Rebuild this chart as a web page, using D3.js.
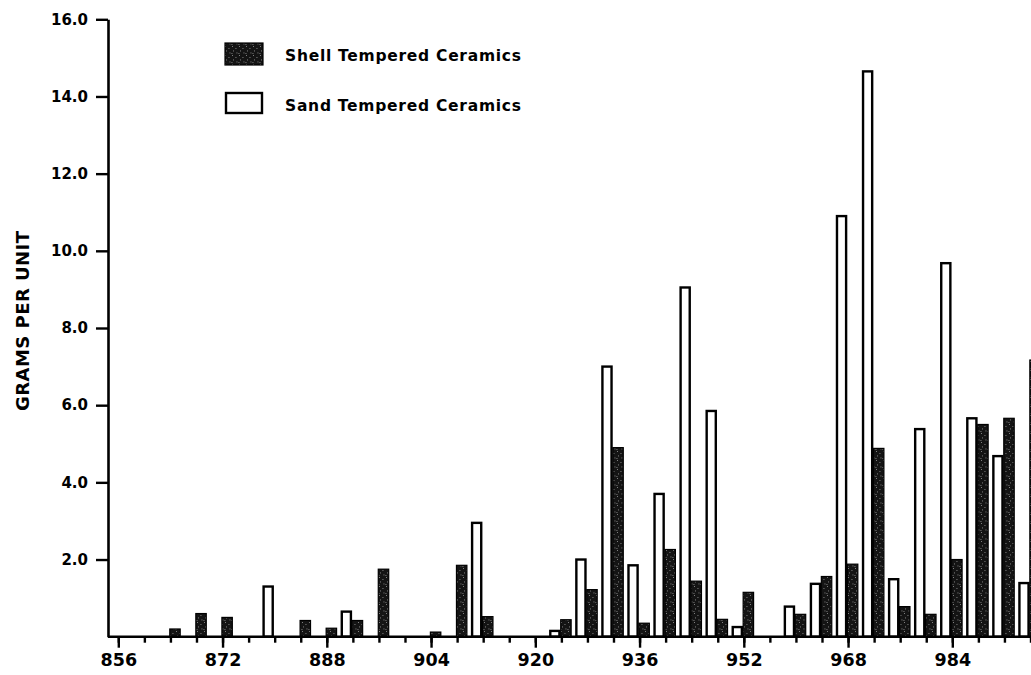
<!DOCTYPE html>
<html><head><meta charset="utf-8">
<script src="https://cdn.jsdelivr.net/npm/d3@7"></script>
<style>body{margin:0;background:#fff}svg{display:block}</style>
</head><body>
<svg id="c" width="1031" height="675"></svg>
<script>
// ---- data ----
const units = [856,860,864,868,872,876,880,884,888,892,896,900,904,908,912,916,920,924,928,932,936,940,944,948,952,956,960,964,968,972,976,980,984,988,992,996];
const sand  = [0,0,0,0,0,0,1.3,0,0,0.65,0,0,0,0,2.95,0,0,0.15,2.0,7.0,1.85,3.7,9.05,5.85,0.25,0,0.78,1.37,10.9,14.65,1.49,5.38,9.68,5.66,4.68,1.39];
const shell = [0,0,0.2,0.6,0.5,0,0,0.42,0.22,0.42,1.75,0,0.12,1.85,0.52,0,0,0.44,1.22,4.9,0.35,2.26,1.44,0.45,1.15,0,0.58,1.56,1.88,4.88,0.78,0.58,2.0,5.5,5.66,7.17];
const xMajorTicks = [856,872,888,904,920,936,952,968,984];
const yTicks = [2,4,6,8,10,12,14,16];
const legendLabels = ["Shell Tempered Ceramics","Sand Tempered Ceramics"];
const yTitle = "GRAMS PER UNIT";

// ---- setup ----
const svg = d3.select("#c");
const FONT = "'DejaVu Sans', 'Liberation Sans', Arial, sans-serif";
const x = d3.scaleLinear().domain([856, 996]).range([118.3, 1030.5]);
const y = d3.scaleLinear().domain([0, 16]).range([636.7, 19.3]);
const axisX = 108;

// stipple pattern for shell bars
const defs = svg.append("defs");
const pat = defs.append("pattern").attr("id","stip").attr("patternUnits","userSpaceOnUse")
  .attr("width",7).attr("height",9);
pat.append("rect").attr("width",7).attr("height",9).attr("fill","#141414");
[[1,1],[4.5,3],[2,5.5],[5.5,7.5],[0.5,8]].forEach(p=>{
  pat.append("rect").attr("x",p[0]).attr("y",p[1]).attr("width",0.9).attr("height",0.9).attr("fill","#9a9a9a");
});

const data = units.map((u,i)=>({u, sand:sand[i], shell:shell[i]}));

// sand (open) bars
svg.append("g").selectAll("rect").data(data.filter(d=>d.sand>0)).join("rect")
  .attr("x", d=>x(d.u-1.7))
  .attr("width", d=>x(d.u-0.3)-x(d.u-1.7))
  .attr("y", d=>y(d.sand))
  .attr("height", d=>y(0)-y(d.sand))
  .attr("fill","#fff").attr("stroke","#000").attr("stroke-width",2.4);

// shell (filled) bars
svg.append("g").selectAll("rect").data(data.filter(d=>d.shell>0)).join("rect")
  .attr("x", d=>x(d.u-0.1))
  .attr("width", d=>x(d.u+1.5)-x(d.u-0.1))
  .attr("y", d=>y(d.shell))
  .attr("height", d=>y(0)-y(d.shell))
  .attr("fill","url(#stip)").attr("stroke","#000").attr("stroke-width",1.2);

// x axis: minor ticks
const gxMinor = svg.append("g").attr("transform",`translate(0,${y(0)})`)
  .call(d3.axisBottom(x).tickValues(units).tickSize(6).tickFormat(""));
// major ticks with labels
const gxMajor = svg.append("g").attr("transform",`translate(0,${y(0)})`)
  .call(d3.axisBottom(x).tickValues(xMajorTicks).tickSize(11).tickPadding(6).tickFormat(d3.format("d")));
[gxMinor,gxMajor].forEach(g=>{
  g.select(".domain").remove();
  g.selectAll(".tick line").attr("stroke","#000").attr("stroke-width",2.4);
});
gxMajor.selectAll(".tick text").attr("font-family",FONT).attr("font-weight","bold")
  .attr("font-size",17.5).attr("fill","#000");
// baseline
svg.append("line").attr("x1",axisX).attr("x2",1031).attr("y1",y(0)).attr("y2",y(0))
  .attr("stroke","#000").attr("stroke-width",2.6);

// y axis
const gy = svg.append("g").attr("transform",`translate(${axisX},0)`)
  .call(d3.axisLeft(y).tickValues(yTicks).tickSize(12).tickSizeOuter(0).tickPadding(8).tickFormat(d3.format(".1f")));
gy.select(".domain").attr("stroke","#000").attr("stroke-width",2.6);
gy.selectAll(".tick line").attr("stroke","#000").attr("stroke-width",2.4);
gy.selectAll(".tick text").attr("font-family",FONT).attr("font-weight","bold")
  .attr("font-size",15).attr("fill","#000");

// y title
svg.append("text").attr("transform",`translate(28.5,321) rotate(-90)`)
  .attr("text-anchor","middle").attr("font-family",FONT).attr("font-weight","bold")
  .attr("font-size",18).attr("textLength",180).attr("lengthAdjust","spacing")
  .text(yTitle);

// legend
const leg = svg.append("g");
leg.append("rect").attr("x",225).attr("y",43).attr("width",38).attr("height",22)
  .attr("fill","url(#stip)").attr("stroke","#000").attr("stroke-width",1.2);
leg.append("rect").attr("x",226).attr("y",93).attr("width",36).attr("height",20)
  .attr("fill","#fff").attr("stroke","#000").attr("stroke-width",2.4);
leg.selectAll("text").data(legendLabels).join("text")
  .attr("x",285).attr("y",(d,i)=>61+i*50)
  .attr("font-family",FONT).attr("font-weight","bold").attr("font-size",15.5)
  .attr("textLength",236).attr("lengthAdjust","spacing")
  .text(d=>d);
</script>
</body></html>
